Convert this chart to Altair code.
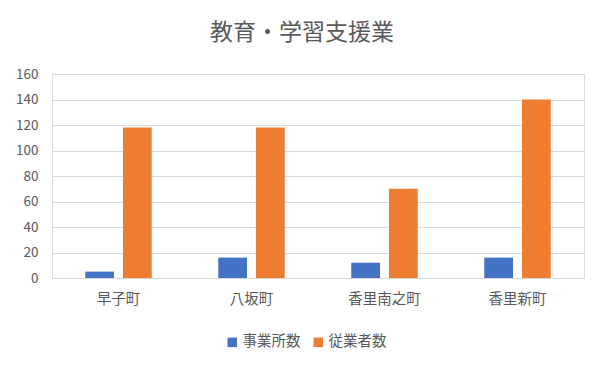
import altair as alt
import pandas as pd

towns = ["早子町", "八坂町", "香里南之町", "香里新町"]
series = ["事業所数", "従業者数"]
offices = [5, 16, 12, 16]
workers = [118, 118, 70, 140]

rows = []
for i, t in enumerate(towns):
    rows.append({"town": t, "series": series[0], "value": offices[i]})
    rows.append({"town": t, "series": series[1], "value": workers[i]})
df = pd.DataFrame(rows)

FONT = "Noto Sans CJK JP"
GREY = "#595959"

chart = alt.Chart(df).mark_bar().encode(
    x=alt.X("town:N", sort=towns, title=None,
            scale=alt.Scale(paddingInner=0.5, paddingOuter=0.25),
            axis=alt.Axis(labelAngle=0, ticks=False, domainColor="#d9d9d9",
                          labelColor=GREY, labelFontSize=14.5, labelFont=FONT,
                          labelPadding=14, grid=False)),
    xOffset=alt.XOffset("series:N", sort=series,
                        scale=alt.Scale(paddingInner=0.237, paddingOuter=0)),
    y=alt.Y("value:Q", title=None,
            scale=alt.Scale(domain=[0, 160]),
            axis=alt.Axis(values=[0, 20, 40, 60, 80, 100, 120, 140, 160],
                          domain=False, ticks=False, gridColor="#d9d9d9",
                          labelColor=GREY, labelFontSize=13.5, labelFont=FONT,
                          labelPadding=14)),
    color=alt.Color("series:N", sort=series, title=None,
                    scale=alt.Scale(domain=series, range=["#4472C4", "#ED7D31"]),
                    legend=alt.Legend(orient="none", direction="horizontal",
                                      legendX=173, legendY=261,
                                      symbolType="square", symbolSize=90,
                                      labelFontSize=14.5, labelFont=FONT,
                                      labelColor=GREY, columnPadding=10,
                                      labelOffset=3,
                                      symbolStrokeWidth=0)),
).properties(
    width=532, height=204,
    title=alt.TitleParams("教育・学習支援業", font=FONT, fontSize=23,
                          fontWeight="normal", color=GREY, anchor="middle",
                          dx=-16, offset=22),
    autosize=alt.AutoSizeParams(type="none"),
    padding={"left": 44, "top": 66, "right": 13, "bottom": 82},
).configure_view(stroke=None).configure(background="white")

chart.save("out.html", embed_options={"renderer": "svg", "actions": False})
